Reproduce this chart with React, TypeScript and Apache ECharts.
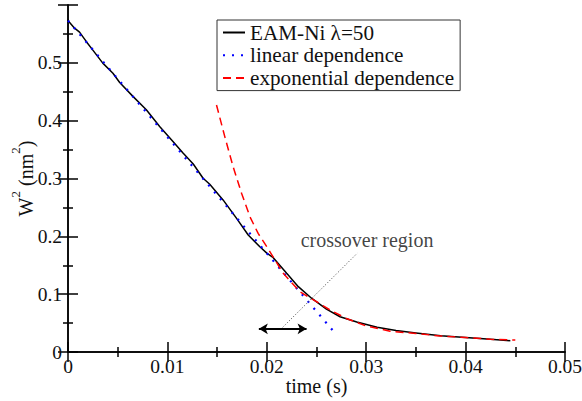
import React, { useEffect, useRef } from "react";
import * as echarts from "echarts";

const FONT = "'Liberation Serif', 'DejaVu Serif', serif";

const blackT = [0, 0.0001, 0.00066, 0.00116, 0.00183, 0.0025, 0.0035, 0.00452, 0.0052, 0.00653, 0.00788, 0.00922, 0.01056, 0.01157, 0.0126, 0.01359, 0.01426, 0.0156, 0.01696, 0.01813, 0.0193, 0.02, 0.02065, 0.022, 0.02317, 0.0245, 0.026, 0.02737, 0.02905, 0.0311, 0.033, 0.035, 0.0375, 0.04, 0.0425, 0.0445];
const blackW = [0.575, 0.571, 0.56, 0.553, 0.537, 0.522, 0.4995, 0.482, 0.466, 0.442, 0.419, 0.39, 0.364, 0.344, 0.325, 0.3005, 0.29, 0.263, 0.231, 0.2024, 0.182, 0.171, 0.163, 0.136, 0.113, 0.093, 0.074, 0.061, 0.052, 0.0427, 0.037, 0.033, 0.028, 0.025, 0.022, 0.0196];

const linearT = [0, 0.027];
const linearW = [0.573, 0.03];

const expT = [0.01494, 0.01578, 0.0166, 0.01746, 0.0183, 0.01913, 0.02, 0.02166, 0.02334, 0.025, 0.02636, 0.028, 0.03, 0.0324, 0.035, 0.03745, 0.04, 0.0425, 0.045];
const expW = [0.427, 0.372, 0.321, 0.2745, 0.234, 0.205, 0.182, 0.136, 0.104, 0.087, 0.0727, 0.058, 0.045, 0.036, 0.032, 0.0277, 0.0251, 0.022, 0.0208];

const arrowT = [0.0192, 0.0240];
const arrowW = [0.04, 0.04];
const pointerT = [0.0216, 0.0291];
const pointerW = [0.0427, 0.1708];
const noteT = [0.02341];
const noteW = [0.194];
const noteText = "crossover region";

const xTicks = { min: 0, max: 0.05, interval: 0.01 };
const yTicks = { min: 0, max: 0.6, interval: 0.1 };

const names = ["EAM-Ni \u03bb=50", "linear dependence", "exponential dependence"];

const zip = (a: number[], b: number[]) => a.map((v, i) => [v, b[i]]);

export default function App() {
  const ref = useRef<HTMLDivElement>(null);
  useEffect(() => {
    if (!ref.current) return;
    const chart = echarts.init(ref.current, null, { renderer: "svg" });
    const axisLine = { show: true, lineStyle: { color: "#000", width: 1.5 } };
    const tick = { show: true, inside: true, length: 10, lineStyle: { color: "#000", width: 1.5 } };
    const minor = { show: true, splitNumber: 2, length: 5, lineStyle: { color: "#000", width: 1.5 } };
    const labelStyle = { color: "#111", fontFamily: FONT, fontSize: 19.5 };
    chart.setOption({
      animation: false,
      backgroundColor: "#fff",
      grid: { left: 68, right: 17, top: 5, bottom: 49, containLabel: false, outerBoundsMode: "none" },
      legend: {
        data: names,
        orient: "vertical",
        left: 217,
        top: 20,
        padding: [2, 6, 2, 5],
        itemGap: 1.8,
        itemWidth: 22,
        itemHeight: 14,
        borderColor: "#333",
        borderWidth: 1,
        backgroundColor: "#fff",
        itemStyle: { color: "transparent", borderColor: "transparent", borderWidth: 0 },
        textStyle: { color: "#111", fontFamily: FONT, fontSize: 21.2 },
        selectedMode: false,
      },
      xAxis: [
        {
          type: "value", position: "bottom", ...xTicks,
          name: "time (s)", nameLocation: "middle", nameGap: 24, nameMoveOverlap: false,
          nameTextStyle: { color: "#111", fontFamily: FONT, fontSize: 20 },
          axisLine, axisTick: tick, minorTick: minor, splitLine: { show: false },
          axisLabel: { ...labelStyle, margin: 4, showMaxLabel: true, showMinLabel: true },
        },
        {
          type: "value", position: "top", ...xTicks,
          axisLine, axisTick: tick, minorTick: minor, splitLine: { show: false },
          axisLabel: { show: false },
        },
      ],
      yAxis: [
        {
          type: "value", position: "left", ...yTicks,
          name: "{a|W}{s|2}{a| (nm}{s|2}{a|)}", nameLocation: "middle", nameGap: 25, nameMoveOverlap: false,
          nameTextStyle: {
            color: "#111", fontFamily: FONT, fontSize: 20,
            rich: {
              a: { color: "#111", fontFamily: FONT, fontSize: 20, lineHeight: 34 },
              s: { color: "#111", fontFamily: FONT, fontSize: 13, lineHeight: 14, verticalAlign: "top" },
            },
          },
          axisLine, axisTick: tick, minorTick: minor, splitLine: { show: false },
          axisLabel: { ...labelStyle, margin: 6, showMaxLabel: false },
        },
        {
          type: "value", position: "right", ...yTicks,
          axisLine, axisTick: tick, minorTick: minor, splitLine: { show: false },
          axisLabel: { show: false },
        },
      ],
      series: [
        {
          name: names[0], type: "line", data: zip(blackT, blackW), symbol: "none",
          lineStyle: { color: "#000", width: 1.5 }, itemStyle: { color: "#000" }, z: 2, silent: true,
        },
        {
          name: names[1], type: "line", data: zip(linearT, linearW), symbol: "none",
          lineStyle: { color: "#0000ff", width: 2.2, type: [2, 7], cap: "butt" }, itemStyle: { color: "#0000ff" }, z: 3, silent: true,
        },
        {
          name: names[2], type: "line", data: zip(expT, expW), symbol: "none",
          lineStyle: { color: "#ff0000", width: 1.5, type: [8, 5] }, itemStyle: { color: "#ff0000" }, z: 4, silent: true,
        },
        {
          name: "arrow", type: "line", data: [], silent: true,
          markLine: {
            silent: true, symbol: ["arrow", "arrow"], symbolSize: [8, 9],
            label: { show: false },
            lineStyle: { color: "#000", width: 1.8, type: "solid" },
            emphasis: { disabled: true },
            data: [[{ coord: [arrowT[0], arrowW[0]] }, { coord: [arrowT[1], arrowW[1]] }]],
          },
        },
        {
          name: "pointer", type: "line", data: [], silent: true,
          markLine: {
            silent: true, symbol: ["none", "none"],
            label: { show: false },
            lineStyle: { color: "#444", width: 1, type: [1, 2] },
            emphasis: { disabled: true },
            data: [[{ coord: [pointerT[0], pointerW[0]] }, { coord: [pointerT[1], pointerW[1]] }]],
          },
        },
        {
          name: "note", type: "scatter", data: zip(noteT, noteW), symbolSize: 0, silent: true,
          label: {
            show: true, position: "right", distance: 0, formatter: noteText,
            color: "#111", fontFamily: FONT, fontSize: 20,
          },
        },
      ],
    });
    return () => chart.dispose();
  }, []);
  return <div ref={ref} style={{ position: "fixed", left: 0, top: 0, width: 582, height: 401, background: "#fff" }} />;
}
